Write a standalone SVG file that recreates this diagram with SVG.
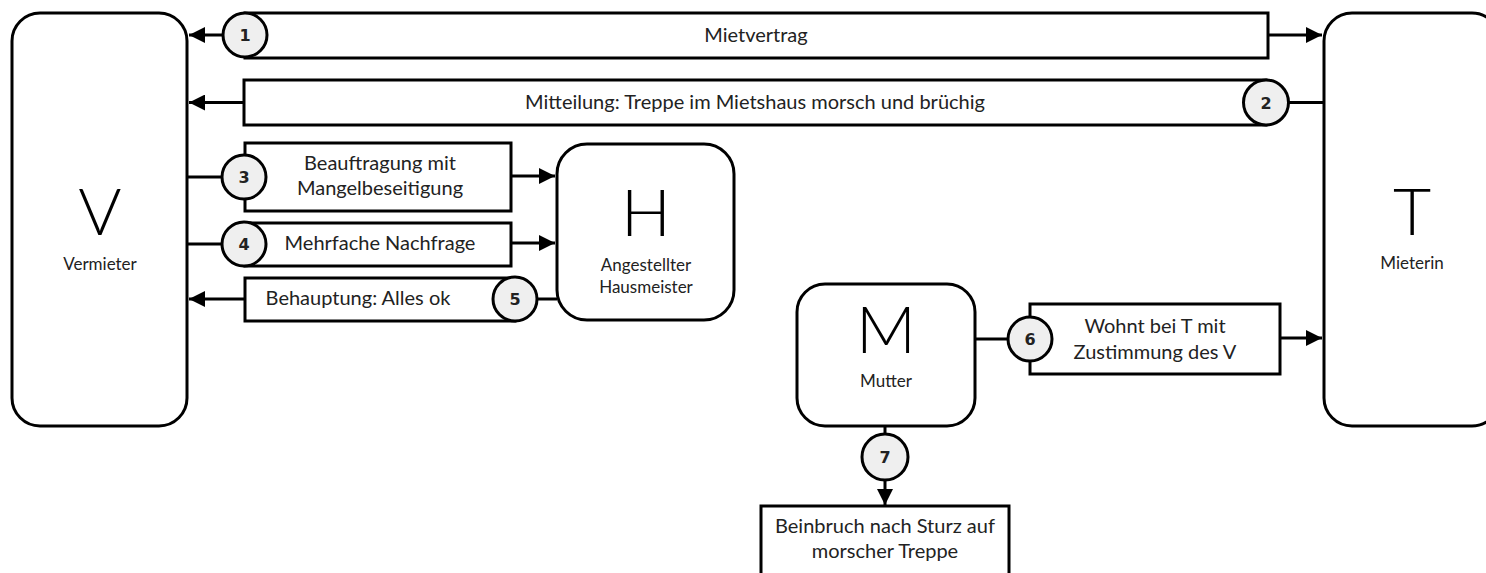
<svg xmlns="http://www.w3.org/2000/svg" width="1486" height="573" viewBox="0 0 1486 573">
<style>
.node{fill:#fff;stroke:#000;stroke-width:3}
.box{fill:#fff;stroke:#000;stroke-width:3}
.num{fill:#efefef;stroke:#000;stroke-width:3}
.ln{fill:none;stroke:#000;stroke-width:3}
.big{font-family:Lato,"Open Sans",sans-serif;font-weight:300;font-size:66px;fill:#000;text-anchor:middle}
.sm{font-family:Lato,"Open Sans",sans-serif;font-size:17px;fill:#222;text-anchor:middle}
.lbl{font-family:Lato,"Open Sans",sans-serif;font-size:20px;fill:#222;text-anchor:middle}
.n{font-family:"DejaVu Sans",sans-serif;font-weight:bold;font-size:16px;fill:#222;text-anchor:middle}
</style>
<defs>
<marker id="ah" viewBox="0 0 16 16" refX="16" refY="8" markerWidth="16" markerHeight="16" markerUnits="userSpaceOnUse" orient="auto">
<path d="M0,0 L16,8 L0,16 z" fill="#000"/>
</marker>
</defs>
<g id="node-V">
<rect class="node" x="12" y="13" width="175" height="413" rx="28"/>
<text class="big" x="100" y="235">V</text>
<text class="sm" x="100" y="270">Vermieter</text>
</g>
<g id="node-T">
<rect class="node" x="1324" y="13" width="176" height="413" rx="28"/>
<text class="big" x="1412" y="235">T</text>
<text class="sm" x="1412" y="269">Mieterin</text>
</g>
<g id="node-H">
<rect class="node" x="557" y="144" width="177" height="176" rx="30"/>
<text class="big" x="646" y="236">H</text>
<text class="sm" x="646" y="271">Angestellter</text>
<text class="sm" x="646" y="293">Hausmeister</text>
</g>
<g id="node-M">
<rect class="node" x="797" y="284" width="178" height="142" rx="28"/>
<text class="big" x="886" y="353">M</text>
<text class="sm" x="886" y="387">Mutter</text>
</g>
<g id="node-B">
<rect class="box" x="761" y="506" width="248" height="80"/>
<text class="lbl" x="885" y="533">Beinbruch nach Sturz auf</text>
<text class="lbl" x="885" y="558">morscher Treppe</text>
</g>
<g id="connectors">
<line class="ln" x1="223" y1="35" x2="189" y2="35" marker-end="url(#ah)"/>
<rect class="box" x="245" y="13" width="1023" height="45"/>
<line class="ln" x1="1268" y1="35" x2="1322" y2="35" marker-end="url(#ah)"/>
<circle class="num" cx="245" cy="35" r="22"/>
<text class="n" x="245" y="41">1</text>
<text class="lbl" x="756" y="42">Mietvertrag</text>
<line class="ln" x1="244" y1="102.5" x2="189" y2="102.5" marker-end="url(#ah)"/>
<rect class="box" x="244" y="80" width="1022" height="45"/>
<line class="ln" x1="1289" y1="102.5" x2="1324" y2="102.5"/>
<circle class="num" cx="1266" cy="102.5" r="22.5"/>
<text class="n" x="1266" y="108.5">2</text>
<text class="lbl" x="755" y="109">Mitteilung: Treppe im Mietshaus morsch und brüchig</text>
<line class="ln" x1="188" y1="177" x2="223" y2="177"/>
<rect class="box" x="245" y="143" width="266" height="68"/>
<line class="ln" x1="511" y1="176" x2="555" y2="176" marker-end="url(#ah)"/>
<circle class="num" cx="244" cy="177" r="22"/>
<text class="n" x="244" y="183">3</text>
<text class="lbl" x="380" y="170">Beauftragung mit</text>
<text class="lbl" x="380" y="195">Mangelbeseitigung</text>
<line class="ln" x1="188" y1="244" x2="223" y2="244"/>
<rect class="box" x="245" y="223" width="266" height="43"/>
<line class="ln" x1="511" y1="243" x2="555" y2="243" marker-end="url(#ah)"/>
<circle class="num" cx="244" cy="244" r="22"/>
<text class="n" x="244" y="250">4</text>
<text class="lbl" x="380" y="250">Mehrfache Nachfrage</text>
<line class="ln" x1="245" y1="299" x2="189" y2="299" marker-end="url(#ah)"/>
<rect class="box" x="245" y="278" width="270" height="43"/>
<line class="ln" x1="537" y1="299" x2="557" y2="299"/>
<circle class="num" cx="515" cy="299" r="22"/>
<text class="n" x="515" y="305">5</text>
<text class="lbl" x="358" y="305">Behauptung: Alles ok</text>
<line class="ln" x1="975" y1="339" x2="1008" y2="339"/>
<rect class="box" x="1030" y="304" width="250" height="70"/>
<line class="ln" x1="1280" y1="338" x2="1322" y2="338" marker-end="url(#ah)"/>
<circle class="num" cx="1030" cy="339" r="22"/>
<text class="n" x="1030" y="345">6</text>
<text class="lbl" x="1155" y="333">Wohnt bei T mit</text>
<text class="lbl" x="1155" y="359">Zustimmung des V</text>
<line class="ln" x1="885" y1="426" x2="885" y2="434"/>
<line class="ln" x1="885" y1="480" x2="885" y2="505" marker-end="url(#ah)"/>
<circle class="num" cx="885" cy="457" r="23"/>
<text class="n" x="885" y="463">7</text>
</g>
</svg>
